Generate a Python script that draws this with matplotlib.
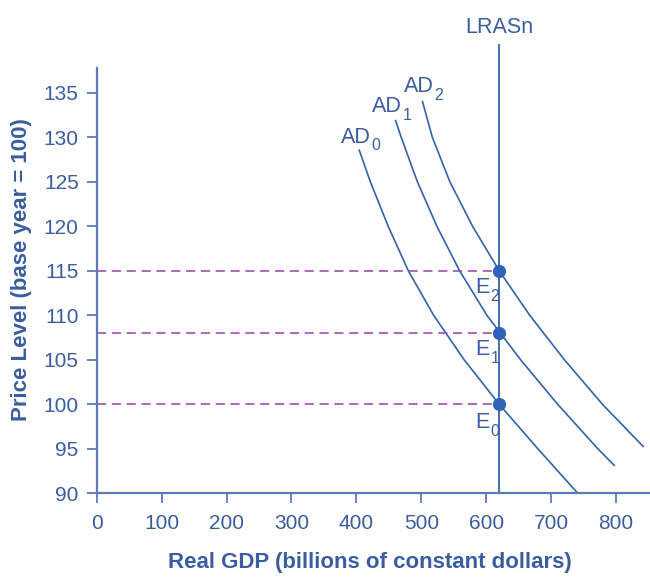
import matplotlib
matplotlib.use("Agg")
import matplotlib.pyplot as plt

plt.rcParams['font.family'] = ['Liberation Sans', 'DejaVu Sans']

# Data
ad0_x = [404, 421.5, 449, 480, 519, 566, 620, 679.5, 741]
ad0_y = [128.65, 125, 120, 115, 110, 105, 100, 95, 90]
ad1_x = [460, 469, 494, 524, 559, 601, 653, 710, 772, 798]
ad1_y = [131.97, 130, 125, 120, 115, 110, 105, 100, 95, 93.07]
ad2_x = [501.5, 517, 544, 579, 620, 667, 720.5, 779, 842.5]
ad2_y = [134.1, 130, 125, 120, 115, 110, 105, 100, 95.2]
lras_x = 620
eq_prices = [100, 108, 115]
eq_subs = ['0', '1', '2']
x_ticks = [0, 100, 200, 300, 400, 500, 600, 700, 800]
y_ticks = [90, 95, 100, 105, 110, 115, 120, 125, 130, 135]

line_c = '#3462a8'
text_c = '#3a5da0'
axis_c = '#5b7bb8'
dash_c = '#a04fb0'
dot_c = '#2f62b8'

fig = plt.figure(figsize=(6.5, 5.84), dpi=100)
ax = fig.add_axes([0.1488, 0.1553, 0.85, 0.7283])
ax.set_xlim(0, 851)
ax.set_ylim(90, 137.8)

for xs, ys in [(ad0_x, ad0_y), (ad1_x, ad1_y), (ad2_x, ad2_y)]:
    ax.plot(xs, ys, color=line_c, lw=1.2, clip_on=False,
            solid_capstyle='butt', solid_joinstyle='round')

ax.plot([lras_x, lras_x], [90, 140.4], color=line_c, lw=1.3, clip_on=False)

for p in eq_prices:
    ax.plot([0, lras_x], [p, p], color=dash_c, lw=1.2, dashes=(5.5, 3.4))
    ax.plot([lras_x], [p], 'o', color=dot_c, ms=8.5, clip_on=False, zorder=5)

fs = 15.5
sub_fs = 11.5


def sub_label(x, y, main, sub):
    t = ax.text(x, y, main, color=text_c, fontsize=fs, ha='left',
                va='baseline', clip_on=False)
    ax.annotate(sub, xy=(1, 0), xycoords=t, xytext=(0.5, -2.5),
                textcoords='offset pixels', color=text_c, fontsize=sub_fs,
                ha='left', va='baseline', annotation_clip=False)


sub_label(376, 129.4, 'AD', '0')
sub_label(424.6, 132.8, 'AD', '1')
sub_label(473, 135.1, 'AD', '2')
for s, yy in zip(eq_subs, [97.3, 105.5, 112.5]):
    sub_label(583.5, yy, 'E', s)
ax.text(619.5, 141.7, 'LRASn', color=text_c, fontsize=fs, ha='center',
        va='baseline', clip_on=False)

ax.set_xticks(x_ticks)
ax.set_yticks(y_ticks)
for s in ['top', 'right']:
    ax.spines[s].set_visible(False)
for s in ['left', 'bottom']:
    ax.spines[s].set_color(axis_c)
    ax.spines[s].set_linewidth(1.6)
ax.tick_params(axis='both', colors=axis_c, labelcolor=text_c, labelsize=15,
               length=7, width=1.3, direction='out')
ax.tick_params(axis='x', pad=8)
ax.tick_params(axis='y', pad=6)

ax.set_xlabel('Real GDP (billions of constant dollars)', fontsize=16,
              fontweight='bold', color=text_c)
ax.set_ylabel('Price Level (base year = 100)', fontsize=16,
              fontweight='bold', color=text_c)
ax.xaxis.set_label_coords(0.495, -0.139)
ax.yaxis.set_label_coords(-0.118, 0.527)

fig.savefig('out.png', dpi=100)
